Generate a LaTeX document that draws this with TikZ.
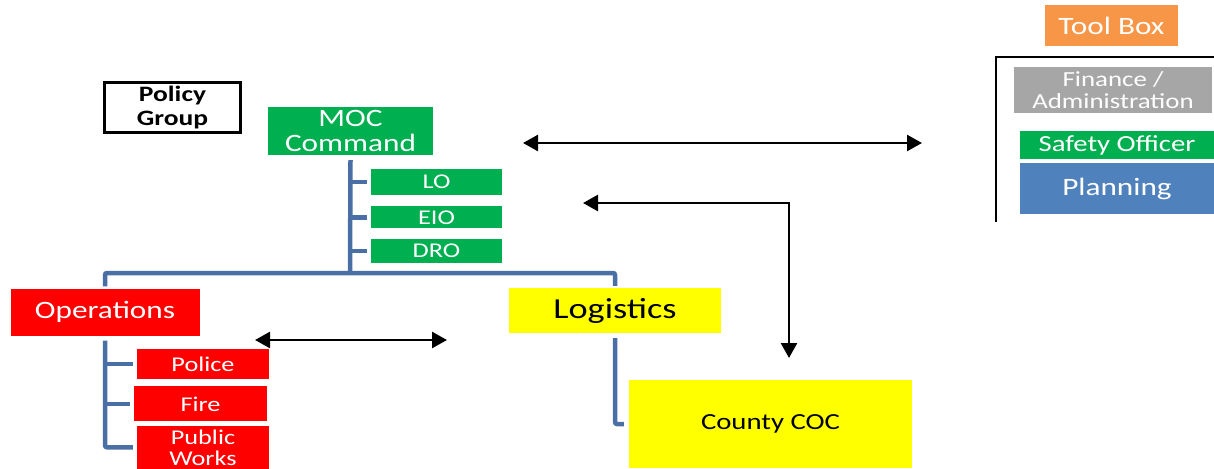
\documentclass[tikz,border=0pt]{standalone}
\usepackage{fontspec}
\setmainfont{Carlito}[FakeStretch=1.25]
\usetikzlibrary{arrows.meta,positioning}
\definecolor{mocgreen}{RGB}{0,176,80}
\definecolor{opsred}{RGB}{255,0,0}
\definecolor{logyellow}{RGB}{255,255,0}
\definecolor{toolorange}{RGB}{247,150,70}
\definecolor{fingrey}{RGB}{166,166,166}
\definecolor{planblue}{RGB}{79,129,189}
\definecolor{treeblue}{RGB}{74,111,165}
\newcommand{\sz}[2]{\fontsize{#1pt}{#2pt}\selectfont}

\begin{document}
\begin{tikzpicture}[x=1pt,y=-1pt,>={Triangle[length=15pt,width=16pt]},
                    box/.style={inner sep=0pt,align=center,text=white},
                    green box/.style={box,fill=mocgreen},
                    red box/.style={box,fill=opsred},
                    yellow box/.style={box,fill=logyellow,text=black},
                    tree/.style={draw=treeblue,line width=4.5pt,rounded corners=2pt},
                    link/.style={<->,line width=2.5pt}]
  \useasboundingbox (0,0) rectangle (1214,468);
  % command and staff
  \node[box,draw=black,line width=3pt,text=black,minimum width=136pt,minimum height=50pt,font=\bfseries\sz{22}{24}] (policy) at (172.5,107.5) {Policy\\Group};
  \node[green box,minimum width=165pt,minimum height=48pt,font=\sz{25}{25}] (moc) at (350.5,131) {MOC\\Command};
  \node[green box,minimum width=131pt,minimum height=26pt,font=\sz{21}{21}] (lo) at (436.5,182) {LO};
  \node[green box,minimum width=131pt,minimum height=22pt,font=\sz{21}{21}] (eio) [below=11pt of lo] {EIO};
  \node[green box,minimum width=131pt,minimum height=24pt,font=\sz{21}{21}] (dro) [below=10pt of eio] {DRO};
  % sections
  \node[red box,minimum width=189pt,minimum height=47pt,font=\sz{25}{25}] (ops) at (105,312) {Operations};
  \node[red box,minimum width=132pt,minimum height=30pt,font=\sz{21}{21}] (police) at (203,364) {Police};
  \node[red box,minimum width=133pt,minimum height=35pt,font=\sz{21}{21}] (fire) [below=7pt of police,xshift=-2.5pt] {Fire};
  \node[red box,minimum width=132pt,minimum height=43pt,font=\sz{21}{21}] (works) [below=4pt of fire,xshift=2.5pt] {Public\\Works};
  \node[yellow box,minimum width=212pt,minimum height=45pt,font=\sz{29}{29}] (log) at (615,310.5) {Logistics};
  \node[yellow box,minimum width=283pt,minimum height=88pt,font=\sz{23}{23}] (coc) at (770.5,424) {County COC};
  % tool box
  \node[box,fill=toolorange,minimum width=133pt,minimum height=41pt,font=\sz{25}{25}] (toolbox) at (1111.5,26) {Tool Box};
  \node[box,fill=fingrey,minimum width=198pt,minimum height=46pt,font=\sz{21.5}{22.7}] (finance) at (1113,90) {Finance /\\Administration};
  \node[green box,minimum width=194pt,minimum height=28pt,font=\sz{23}{23}] (safety) at (1117,145) {Safety Officer};
  \node[box,fill=planblue,minimum width=194pt,minimum height=51pt,font=\sz{25}{25}] (planning) [below=4pt of safety] {Planning};
  \coordinate (frame right) at (1214,57);
  \coordinate (frame foot) at (996,222);
  \draw[line width=2pt] (frame right) -| (frame foot);
  % organisation lines
  \coordinate (bus) at (350,273);
  \draw[tree] ([yshift=-5pt]moc.south) -- (bus);
  \draw[tree] ([yshift=2pt]ops.north) |- (bus) -| ([yshift=2pt]log.north);
  \foreach \n in {lo,eio,dro}
    \draw[tree] (bus |- \n.west) -- ([xshift=-4pt]\n.west);
  \draw[tree] ([yshift=-5pt]ops.south) |- ([xshift=-4pt]works.west);
  \foreach \n in {police,fire}
    \draw[tree] (ops |- \n.west) -- ([xshift=-4pt]\n.west);
  \draw[tree] ([yshift=-5pt]log.south) |- ([xshift=-5pt]coc.west);
  % links
  \coordinate (cmd end) at (523,143);
  \coordinate (tool end) at (922,143);
  \coordinate (staff end) at (583,203);
  \coordinate (coc end) at (789,358);
  \coordinate (ops end) at (255,340);
  \coordinate (log end) at (447,340);
  \draw[link] (cmd end) -- (tool end);
  \draw[link] (staff end) -| (coc end);
  \draw[link] (ops end) -- (log end);
\end{tikzpicture}
\end{document}
